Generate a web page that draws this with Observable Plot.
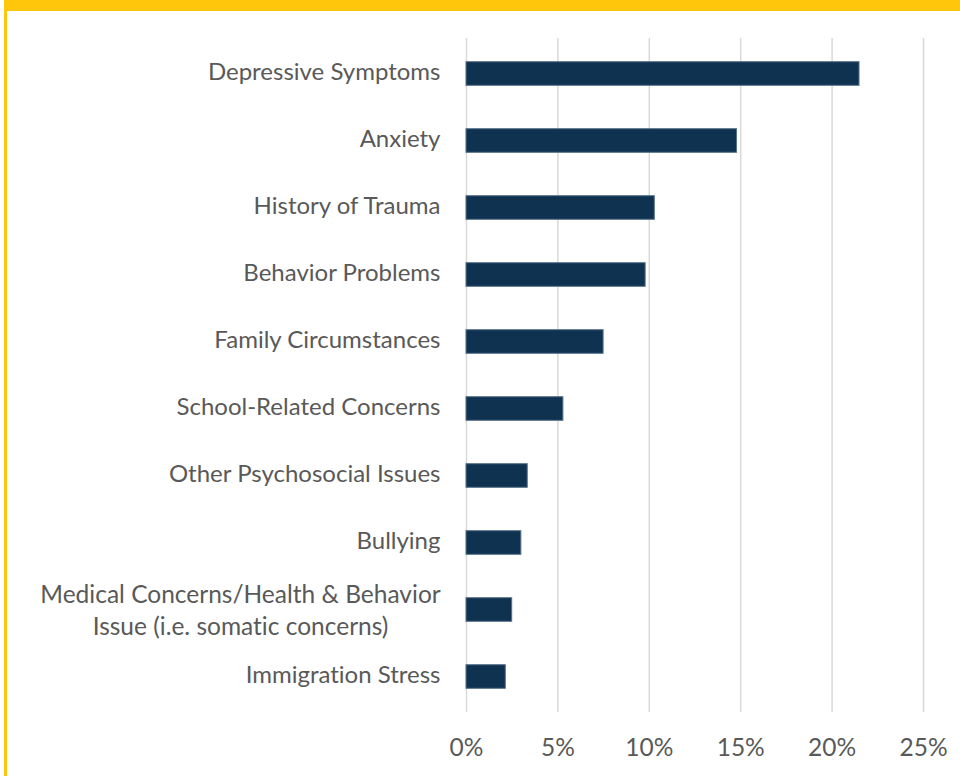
<!DOCTYPE html>
<html><head><meta charset="utf-8">
<script src="https://cdn.jsdelivr.net/npm/d3@7"></script>
<script src="https://cdn.jsdelivr.net/npm/@observablehq/plot@0.6"></script>
<style>
html,body{margin:0;padding:0;background:#fff;}
#frame{position:absolute;left:4px;top:0;width:956px;height:776px;border-top:11px solid #FFC60B;border-left:3px solid #FFC60B;box-sizing:border-box;}
#chart{position:absolute;left:0;top:0;}
#chart svg text{font-variant-ligatures:none;font-feature-settings:"liga" 0, "dlig" 0;}
</style></head><body>
<div id="frame"></div><div id="chart"></div>
<script>
const categories = [
  "Depressive Symptoms",
  "Anxiety",
  "History of Trauma",
  "Behavior Problems",
  "Family Circumstances",
  "School-Related Concerns",
  "Other Psychosocial Issues",
  "Bullying",
  "Medical Concerns/Health & Behavior\nIssue (i.e. somatic concerns)",
  "Immigration Stress"
];
const values = [21.5, 14.8, 10.3, 9.8, 7.5, 5.3, 3.35, 3.0, 2.5, 2.15];
const xTicks = [0, 5, 10, 15, 20, 25];

const data = categories.map((c, i) => ({category: c, value: values[i]}));
const multi = categories.filter(c => c.includes("\n"));

const chart = Plot.plot({
  width: 960, height: 776,
  marginLeft: 466, marginRight: 37, marginTop: 38, marginBottom: 64,
  style: {background: "transparent", fontFamily: "Lato", color: "#595959", overflow: "visible"},
  x: {domain: [0, 25]},
  y: {domain: categories, padding: 0},
  marks: [
    Plot.gridX(xTicks, {stroke: "#d9d9d9", strokeOpacity: 1, strokeWidth: 1.5}),
    Plot.barX(data, {x: "value", y: "category", fill: "#0e3250", stroke: "#56708b", strokeWidth: 1, insetTop: 21.7, insetBottom: 21.7}),
    Plot.axisX({ticks: xTicks, tickSize: 0, tickPadding: 26, tickFormat: d => d + "%", fontSize: 24.5, fill: "#595959", label: null}),
    Plot.axisY({tickSize: 0, tickPadding: 26, fontSize: 24, fill: "#595959", label: null, dy: -2, tickFormat: d => d.includes("\n") ? "" : d}),
    Plot.text(multi, {x: 0, y: d => d, text: d => d, textAnchor: "middle", dx: -226, dy: -1.5, fontSize: 24.5, lineHeight: 1.32, fill: "#595959"})
  ]
});
document.getElementById("chart").append(chart);
</script>
</body></html>
